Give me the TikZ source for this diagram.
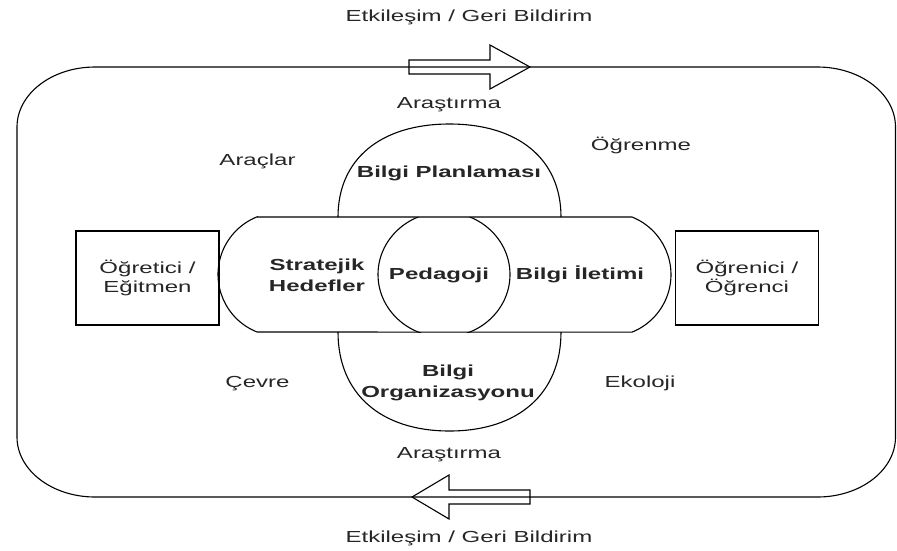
\documentclass[tikz,border=0pt]{standalone}
\usepackage{fontspec}
\setmainfont{Liberation Sans}[FakeStretch=1.5]
\begin{document}
\begin{tikzpicture}[x=1pt,y=-1pt,
  every node/.style={inner sep=0pt, text=black!85},
  lbl/.style={font=\fontsize{16}{20}\selectfont, anchor=base},
  blbl/.style={font=\fontsize{16}{21}\selectfont\bfseries, anchor=base, align=center},
  boxnode/.style={draw, line width=1.1pt, minimum width=143pt, minimum height=94pt, align=center, font=\fontsize{16}{19}\selectfont},
  shapeline/.style={line width=1.1pt, draw=black},
  blockarrow/.style={line width=1.1pt, draw=black}
]
\useasboundingbox (0,0) rectangle (897,550);

% outer rounded frame (elliptical corners)
\def\rx{78}\def\ry{60}
\draw[shapeline] (17+\rx,67) -- (895.5-\rx,67)
  arc[start angle=270, end angle=360, x radius=\rx, y radius=\ry]
  -- (895.5,497-\ry)
  arc[start angle=0, end angle=90, x radius=\rx, y radius=\ry]
  -- (17+\rx,497)
  arc[start angle=90, end angle=180, x radius=\rx, y radius=\ry]
  -- (17,67+\ry)
  arc[start angle=180, end angle=270, x radius=\rx, y radius=\ry] -- cycle;

% block arrows
\draw[blockarrow] (409,60) -- (490,60) -- (490,45) -- (530,67) -- (490,89) -- (490,74) -- (409,74) -- cycle;
\draw[blockarrow] (530,490) -- (449,490) -- (449,475) -- (412,497) -- (449,519) -- (449,504) -- (530,504) -- cycle;

% top and bottom lobes
\draw[shapeline] (338,217) .. controls (338,159.3) and (380.4,124) .. (449.5,124)
  .. controls (518.6,124) and (561,159.3) .. (561,217);
\draw[shapeline] (338,332) .. controls (338,393.4) and (380.4,431) .. (449.5,431)
  .. controls (518.6,431) and (561,393.4) .. (561,332);

% central band
\draw[shapeline] (257,217) -- (632,217)
  arc[start angle=-68.2, end angle=68.2, radius=62]
  -- (257,332)
  arc[start angle=111.8, end angle=248.2, radius=62] -- cycle;

% centre ellipse clipped to band
\begin{scope}
  \clip (0,217) rectangle (897,332);
  \draw[shapeline] (444,274.5) ellipse [x radius=66, y radius=62.5];
\end{scope}

% boxes
\node[boxnode] (ogretici) at (147.5,278) {Öğretici /\\Eğitmen};
\node[boxnode] (ogrenici) at (747,278) {Öğrenici /\\Öğrenci};

% labels
\node[lbl] (etkTop) at (469,21) {Etkileşim / Geri Bildirim};
\node[lbl] (arTop) at (449,108) {Araştırma};
\node[lbl] (araclar) at (257.5,165) {Araçlar};
\node[lbl] (ogrenme) at (641,150) {Öğrenme};
\node[lbl] (cevre) at (257.5,387) {Çevre};
\node[lbl] (ekoloji) at (640,387) {Ekoloji};
\node[lbl] (arBot) at (449,458) {Araştırma};
\node[lbl] (etkBot) at (469,542) {Etkileşim / Geri Bildirim};

\node[blbl] (planlama) at (449,177) {Bilgi Planlaması};
\node[blbl] (strat) at (317,291) {Stratejik\\Hedefler};
\node[blbl] (pedagoji) at (439,279) {Pedagoji};
\node[blbl] (iletim) at (580,279) {Bilgi İletimi};
\node[blbl] (org) at (448,397) {Bilgi\\Organizasyonu};
\end{tikzpicture}
\end{document}
